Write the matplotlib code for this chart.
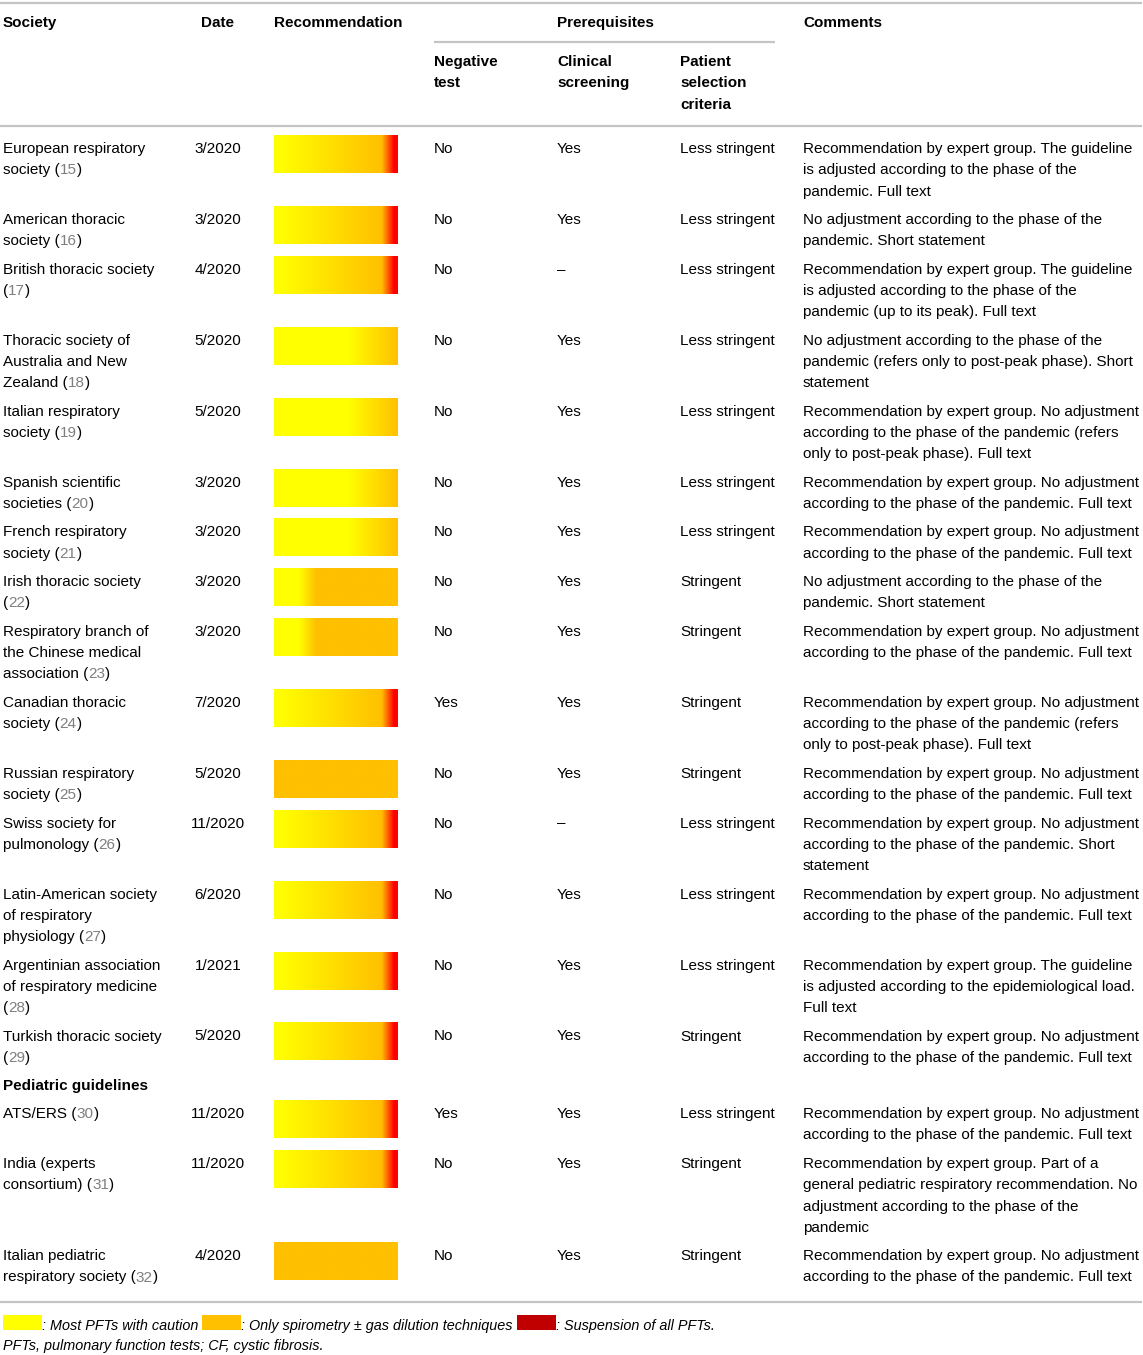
import matplotlib
matplotlib.use("Agg")
import matplotlib.pyplot as plt
import numpy as np
from matplotlib.colors import LinearSegmentedColormap

plt.rcParams['font.family'] = ['Liberation Sans', 'DejaVu Sans']

# ---- table data ----
headers = ["Society", "Date", "Recommendation", "Prerequisites", "Comments"]
sub_headers = ["Negative\ntest", "Clinical\nscreening", "Patient\nselection\ncriteria"]

societies = [
    "European respiratory\nsociety", "American thoracic\nsociety", "British thoracic society\n",
    "Thoracic society of\nAustralia and New\nZealand", "Italian respiratory\nsociety",
    "Spanish scientific\nsocieties", "French respiratory\nsociety", "Irish thoracic society\n",
    "Respiratory branch of\nthe Chinese medical\nassociation", "Canadian thoracic\nsociety",
    "Russian respiratory\nsociety", "Swiss society for\npulmonology",
    "Latin-American society\nof respiratory\nphysiology", "Argentinian association\nof respiratory medicine\n",
    "Turkish thoracic society\n",
    "ATS/ERS", "India (experts\nconsortium)", "Italian pediatric\nrespiratory society",
]
refs = ["15", "16", "17", "18", "19", "20", "21", "22", "23", "24", "25", "26", "27", "28", "29",
        "30", "31", "32"]
dates = ["3/2020", "3/2020", "4/2020", "5/2020", "5/2020", "3/2020", "3/2020", "3/2020", "3/2020",
         "7/2020", "5/2020", "11/2020", "6/2020", "1/2021", "5/2020", "11/2020", "11/2020", "4/2020"]
recommend = ["full", "full", "full", "late", "late", "late", "late", "early", "early", "full",
             "solid", "full", "full", "full", "full", "full", "full", "solid"]
negative_test = ["No", "No", "No", "No", "No", "No", "No", "No", "No", "Yes", "No", "No", "No", "No",
                 "No", "Yes", "No", "No"]
clinical = ["Yes", "Yes", "–", "Yes", "Yes", "Yes", "Yes", "Yes", "Yes", "Yes", "Yes", "–", "Yes",
            "Yes", "Yes", "Yes", "Yes", "Yes"]
selection = ["Less stringent", "Less stringent", "Less stringent", "Less stringent", "Less stringent",
             "Less stringent", "Less stringent", "Stringent", "Stringent", "Stringent", "Stringent",
             "Less stringent", "Less stringent", "Less stringent", "Stringent", "Less stringent",
             "Stringent", "Stringent"]
c_full_a = "Recommendation by expert group. No adjustment\naccording to the phase of the pandemic. Full text"
comments = [
    "Recommendation by expert group. The guideline\nis adjusted according to the phase of the\npandemic. Full text",
    "No adjustment according to the phase of the\npandemic. Short statement",
    "Recommendation by expert group. The guideline\nis adjusted according to the phase of the\npandemic (up to its peak). Full text",
    "No adjustment according to the phase of the\npandemic (refers only to post-peak phase). Short\nstatement",
    "Recommendation by expert group. No adjustment\naccording to the phase of the pandemic (refers\nonly to post-peak phase). Full text",
    c_full_a,
    c_full_a,
    "No adjustment according to the phase of the\npandemic. Short statement",
    c_full_a,
    "Recommendation by expert group. No adjustment\naccording to the phase of the pandemic (refers\nonly to post-peak phase). Full text",
    c_full_a,
    "Recommendation by expert group. No adjustment\naccording to the phase of the pandemic. Short\nstatement",
    c_full_a,
    "Recommendation by expert group. The guideline\nis adjusted according to the epidemiological load.\nFull text",
    c_full_a,
    c_full_a,
    "Recommendation by expert group. Part of a\ngeneral pediatric respiratory recommendation. No\nadjustment according to the phase of the\npandemic",
    c_full_a,
]
section_label = "Pediatric guidelines"
section_before = 15  # index of first pediatric row

legend_labels = [": Most PFTs with caution", ": Only spirometry ± gas dilution techniques",
                 ": Suspension of all PFTs."]
footnote = "PFTs, pulmonary function tests; CF, cystic fibrosis."

# ---- styles ----
YEL, ORA, RED = "#ffff00", "#ffc000", "#ff0000"
grad_stops = {
    "full": [(0, YEL), (0.04, YEL), (0.87, ORA), (0.97, RED), (1, RED)],
    "late": [(0, YEL), (0.6, YEL), (1, ORA)],
    "early": [(0, YEL), (0.2, YEL), (0.34, ORA), (1, ORA)],
    "solid": [(0, ORA), (1, ORA)],
}
legend_colors = [YEL, ORA, "#c00000"]
FS = 11
GRAY_REF = "#7f7f7f"
LINE_C = "#c4c4c4"
W, H = 1143, 1355
col_x = [3, 218, 274, 434, 557, 680, 803]
line_h = 21.3
row_pad = 7.1

fig = plt.figure(figsize=(W / 100, H / 100), dpi=100)
ax = fig.add_axes([0, 0, 1, 1])
ax.axis("off")


def set_lims():
    ax.set_xlim(0, W)
    ax.set_ylim(H, 0)


set_lims()
renderer = fig.canvas.get_renderer()


def right_edge(t):
    bb = t.get_window_extent(renderer)
    return ax.transData.inverted().transform((bb.x1, 0))[0]


def lines_text(x, y, s, **kw):
    for i, ln in enumerate(s.split("\n")):
        if ln:
            ax.text(x, y + i * line_h, ln, fontsize=FS, va="baseline", **kw)


def hline(y, x0=0, x1=W - 1):
    ax.plot([x0, x1], [y, y], color=LINE_C, lw=1.6, solid_capstyle="butt")


# header
hline(2.5)
hb = 27
ax.text(col_x[0], hb, headers[0], fontsize=FS, fontweight="bold", va="baseline")
ax.text(col_x[1], hb, headers[1], fontsize=FS, fontweight="bold", va="baseline", ha="center")
ax.text(col_x[2], hb, headers[2], fontsize=FS, fontweight="bold", va="baseline")
ax.text(col_x[4], hb, headers[3], fontsize=FS, fontweight="bold", va="baseline")
ax.text(col_x[6], hb, headers[4], fontsize=FS, fontweight="bold", va="baseline")
hline(42, col_x[3], 775)
for k, sh in enumerate(sub_headers):
    lines_text(col_x[3 + k], 66, sh, fontweight="bold")
hline(126)

# rows
base = 153
for i in range(len(societies)):
    if i == section_before:
        ax.text(col_x[0], base, section_label, fontsize=FS, fontweight="bold", va="baseline")
        base += 28
    soc_lines = societies[i].split("\n")
    n = max(len(soc_lines), len(comments[i].split("\n")))
    for k, ln in enumerate(soc_lines[:-1]):
        ax.text(col_x[0], base + k * line_h, ln, fontsize=FS, va="baseline")
    yl = base + (len(soc_lines) - 1) * line_h
    last = soc_lines[-1]
    t = ax.text(col_x[0], yl, last + (" (" if last else "("), fontsize=FS, va="baseline")
    t = ax.text(right_edge(t), yl, refs[i], fontsize=FS, va="baseline", color=GRAY_REF)
    ax.text(right_edge(t), yl, ")", fontsize=FS, va="baseline")

    ax.text(col_x[1], base, dates[i], fontsize=FS, va="baseline", ha="center")
    cmap = LinearSegmentedColormap.from_list(recommend[i], grad_stops[recommend[i]])
    grad = np.linspace(0, 1, 256).reshape(1, -1)
    ax.imshow(grad, cmap=cmap, aspect="auto", extent=(274, 398, base + 20, base - 18),
              interpolation="bilinear", vmin=0, vmax=1)
    ax.text(col_x[3], base, negative_test[i], fontsize=FS, va="baseline")
    ax.text(col_x[4], base, clinical[i], fontsize=FS, va="baseline")
    ax.text(col_x[5], base, selection[i], fontsize=FS, va="baseline")
    lines_text(col_x[6], base, comments[i])
    last_base = base
    base += n * line_h + row_pad

hline(last_base + line_h + 20)
set_lims()

# legend / footnote
fy = 1330
x = 3
for col, lab in zip(legend_colors, legend_labels):
    ax.add_patch(plt.Rectangle((x, fy - 15), 39, 15, color=col, lw=0))
    t = ax.text(x + 39, fy, lab, fontsize=10.35, style="italic", va="baseline")
    x = right_edge(t) + 4
ax.text(3, fy + 20, footnote, fontsize=10.35, style="italic", va="baseline")

set_lims()
fig.savefig("out.png", dpi=100)
